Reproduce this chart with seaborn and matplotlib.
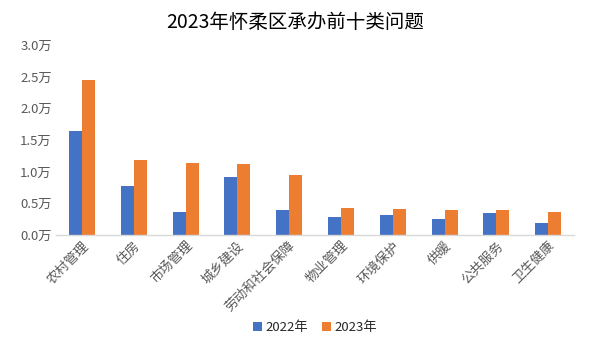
import matplotlib
matplotlib.use("Agg")
import matplotlib.pyplot as plt
import seaborn as sns
import pandas as pd

categories = ["农村管理", "住房", "市场管理", "城乡建设", "劳动和社会保障",
              "物业管理", "环境保护", "供暖", "公共服务", "卫生健康"]
v2022 = [1.64, 0.77, 0.36, 0.92, 0.39, 0.28, 0.32, 0.25, 0.35, 0.19]
v2023 = [2.45, 1.18, 1.14, 1.12, 0.95, 0.43, 0.41, 0.39, 0.39, 0.36]
series = ["2022年", "2023年"]
yticks = [0.0, 0.5, 1.0, 1.5, 2.0, 2.5, 3.0]

sns.set_theme(style="white")
plt.rcParams['font.family'] = ['Noto Sans CJK SC', 'DejaVu Sans']

df = pd.DataFrame({
    "cat": categories * 2,
    "val": v2022 + v2023,
    "year": [series[0]] * len(categories) + [series[1]] * len(categories),
})

fig = plt.figure(figsize=(5.9, 3.44), dpi=100)
ax = fig.add_axes([0.095, 0.317, 0.878, 0.552])
sns.barplot(data=df, x="cat", y="val", hue="year", palette=["#4472C4", "#ED7D31"],
            width=0.5, gap=0, saturation=1, linewidth=0, ax=ax, legend=True)

ax.set_ylim(0, 3.0)
ax.set_yticks(yticks)
ax.set_yticklabels([f"{t:.1f}万" for t in yticks], color="#595959", fontsize=9.5)
ax.set_xlabel("")
ax.set_ylabel("")
ax.set_xticks(range(len(categories)))
ax.set_xticklabels(categories, rotation=45, ha="right", rotation_mode="anchor",
                   color="#595959", fontsize=9.5)
ax.tick_params(axis="both", length=0, pad=3)
for s in ["top", "right", "left"]:
    ax.spines[s].set_visible(False)
ax.spines["bottom"].set_color("#D9D9D9")
ax.spines["bottom"].set_linewidth(1)

ax.legend(loc="center", bbox_to_anchor=(0.5, -0.49), ncol=2, frameon=False,
          fontsize=9.5, handlelength=0.7, handleheight=0.7, handletextpad=0.3,
          columnspacing=1.0)

fig.suptitle("2023年怀柔区承办前十类问题", fontsize=14, y=0.965, color="#000000")

fig.savefig("out.png", dpi=100)
